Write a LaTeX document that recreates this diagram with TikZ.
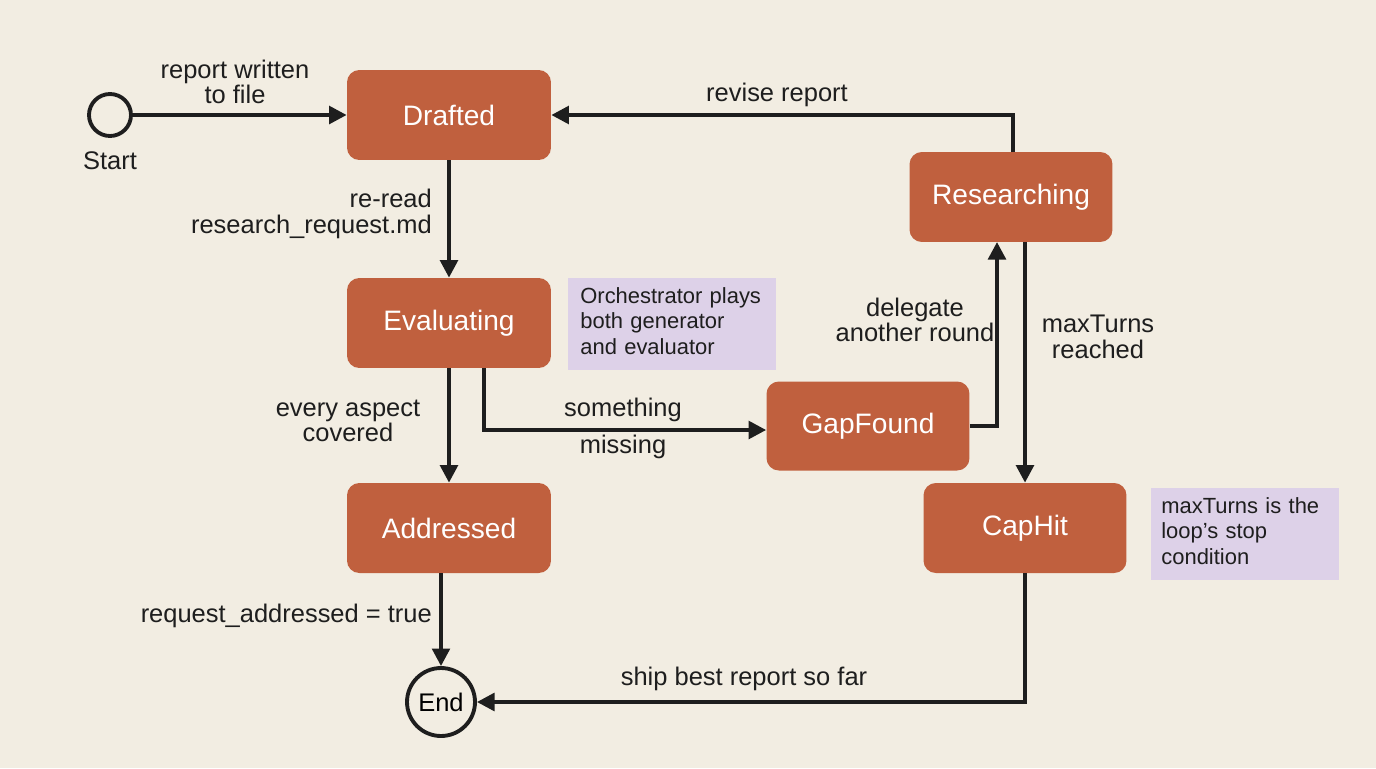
\documentclass[tikz,border=0pt]{standalone}
\usepackage{fontspec}
\setmainfont{Liberation Sans}
\usetikzlibrary{arrows.meta}
\definecolor{bg}{HTML}{F2EDE2}
\definecolor{boxc}{HTML}{C0603E}
\definecolor{notec}{HTML}{DDD1E8}
\definecolor{ink}{HTML}{1E1E1E}
\begin{document}
\begin{tikzpicture}[x=0.02cm,y=-0.02cm,
  state/.style={fill=boxc,rounded corners=7pt,minimum width=4.08cm,minimum height=1.8cm,text=white,font=\fontsize{16}{18}\selectfont,inner sep=0pt},
  note/.style={anchor=north west,align=left,font=\fontsize{12.5}{14.5}\selectfont,inner sep=0pt,text width=#1,text=ink},
  lbl/.style={font=\fontsize{14.5}{16.5}\selectfont,align=center,text=ink},
  arr/.style={draw=ink,line width=2.2pt,-{Triangle[length=10pt,width=10pt]}},
  term/.style={circle,draw=ink,line width=2.2pt,fill=bg,inner sep=0pt}]
\fill[bg] (0,0) rectangle (1376,768);
\useasboundingbox (0,0) rectangle (1376,768);
\node[term,minimum size=0.84cm] (start) at (110,115) {};
\node[lbl] at (110,161) {Start};
\node[state] (drafted) at (449,115) {Drafted};
\node[state] (eval) at (449,323) {Evaluating};
\node[state] (addr) at (449,528) {Addressed};
\node[state,minimum width=4.06cm,minimum height=1.78cm] (gap) at (868,426) {GapFound};
\node[state,minimum width=4.06cm] (res) at (1011,197) {Researching};
\node[state,minimum width=4.06cm] (cap) at (1025,528) {CapHit};
\node[term,minimum size=1.36cm,font=\fontsize{14.5}{16}\selectfont] (end) at (441,702) {End};
\fill[notec] (568,278) rectangle (776,370);
\node[note=3.9cm] (n1) at (580,287) {Orchestrator plays\\both generator\\and evaluator};
\fill[notec] (1151,488) rectangle (1339,580);
\node[note=3.6cm] (n2) at (1161,497) {maxTurns is the\\loop's stop\\condition};
\draw[arr] (start) -- (drafted);
\node[lbl] at (235,82) {report written\\[-2pt]to file};
\draw[arr] (drafted) -- (eval);
\node[lbl,anchor=east,align=right] at (438,214) {re-read\\[-2pt]research\_request.md};
\draw[arr] (eval) -- (addr);
\node[lbl] at (348,421) {every aspect\\[-2pt]covered};
\draw[arr] (484,368) |- (gap.west |- 0,430);
\node[lbl] at (623,410) {something};
\node[lbl] at (623,447) {missing};
\draw[arr] (gap.east |- 0,426) -| (997,242);
\node[lbl] at (915,320) {delegate\\[-2pt]another round};
\draw[arr] (1025,242) -- (cap.north);
\node[lbl] at (1098,337) {maxTurns\\[-2pt]reached};
\draw[arr] (1013,152) |- (drafted.east);
\node[lbl] at (777,95) {revise report};
\draw[arr] (441,573) -- (end);
\node[lbl,anchor=east] at (438,616) {request\_addressed = true};
\draw[arr] (cap.south) |- (end.east);
\node[lbl] at (744,679) {ship best report so far};
\end{tikzpicture}
\end{document}
